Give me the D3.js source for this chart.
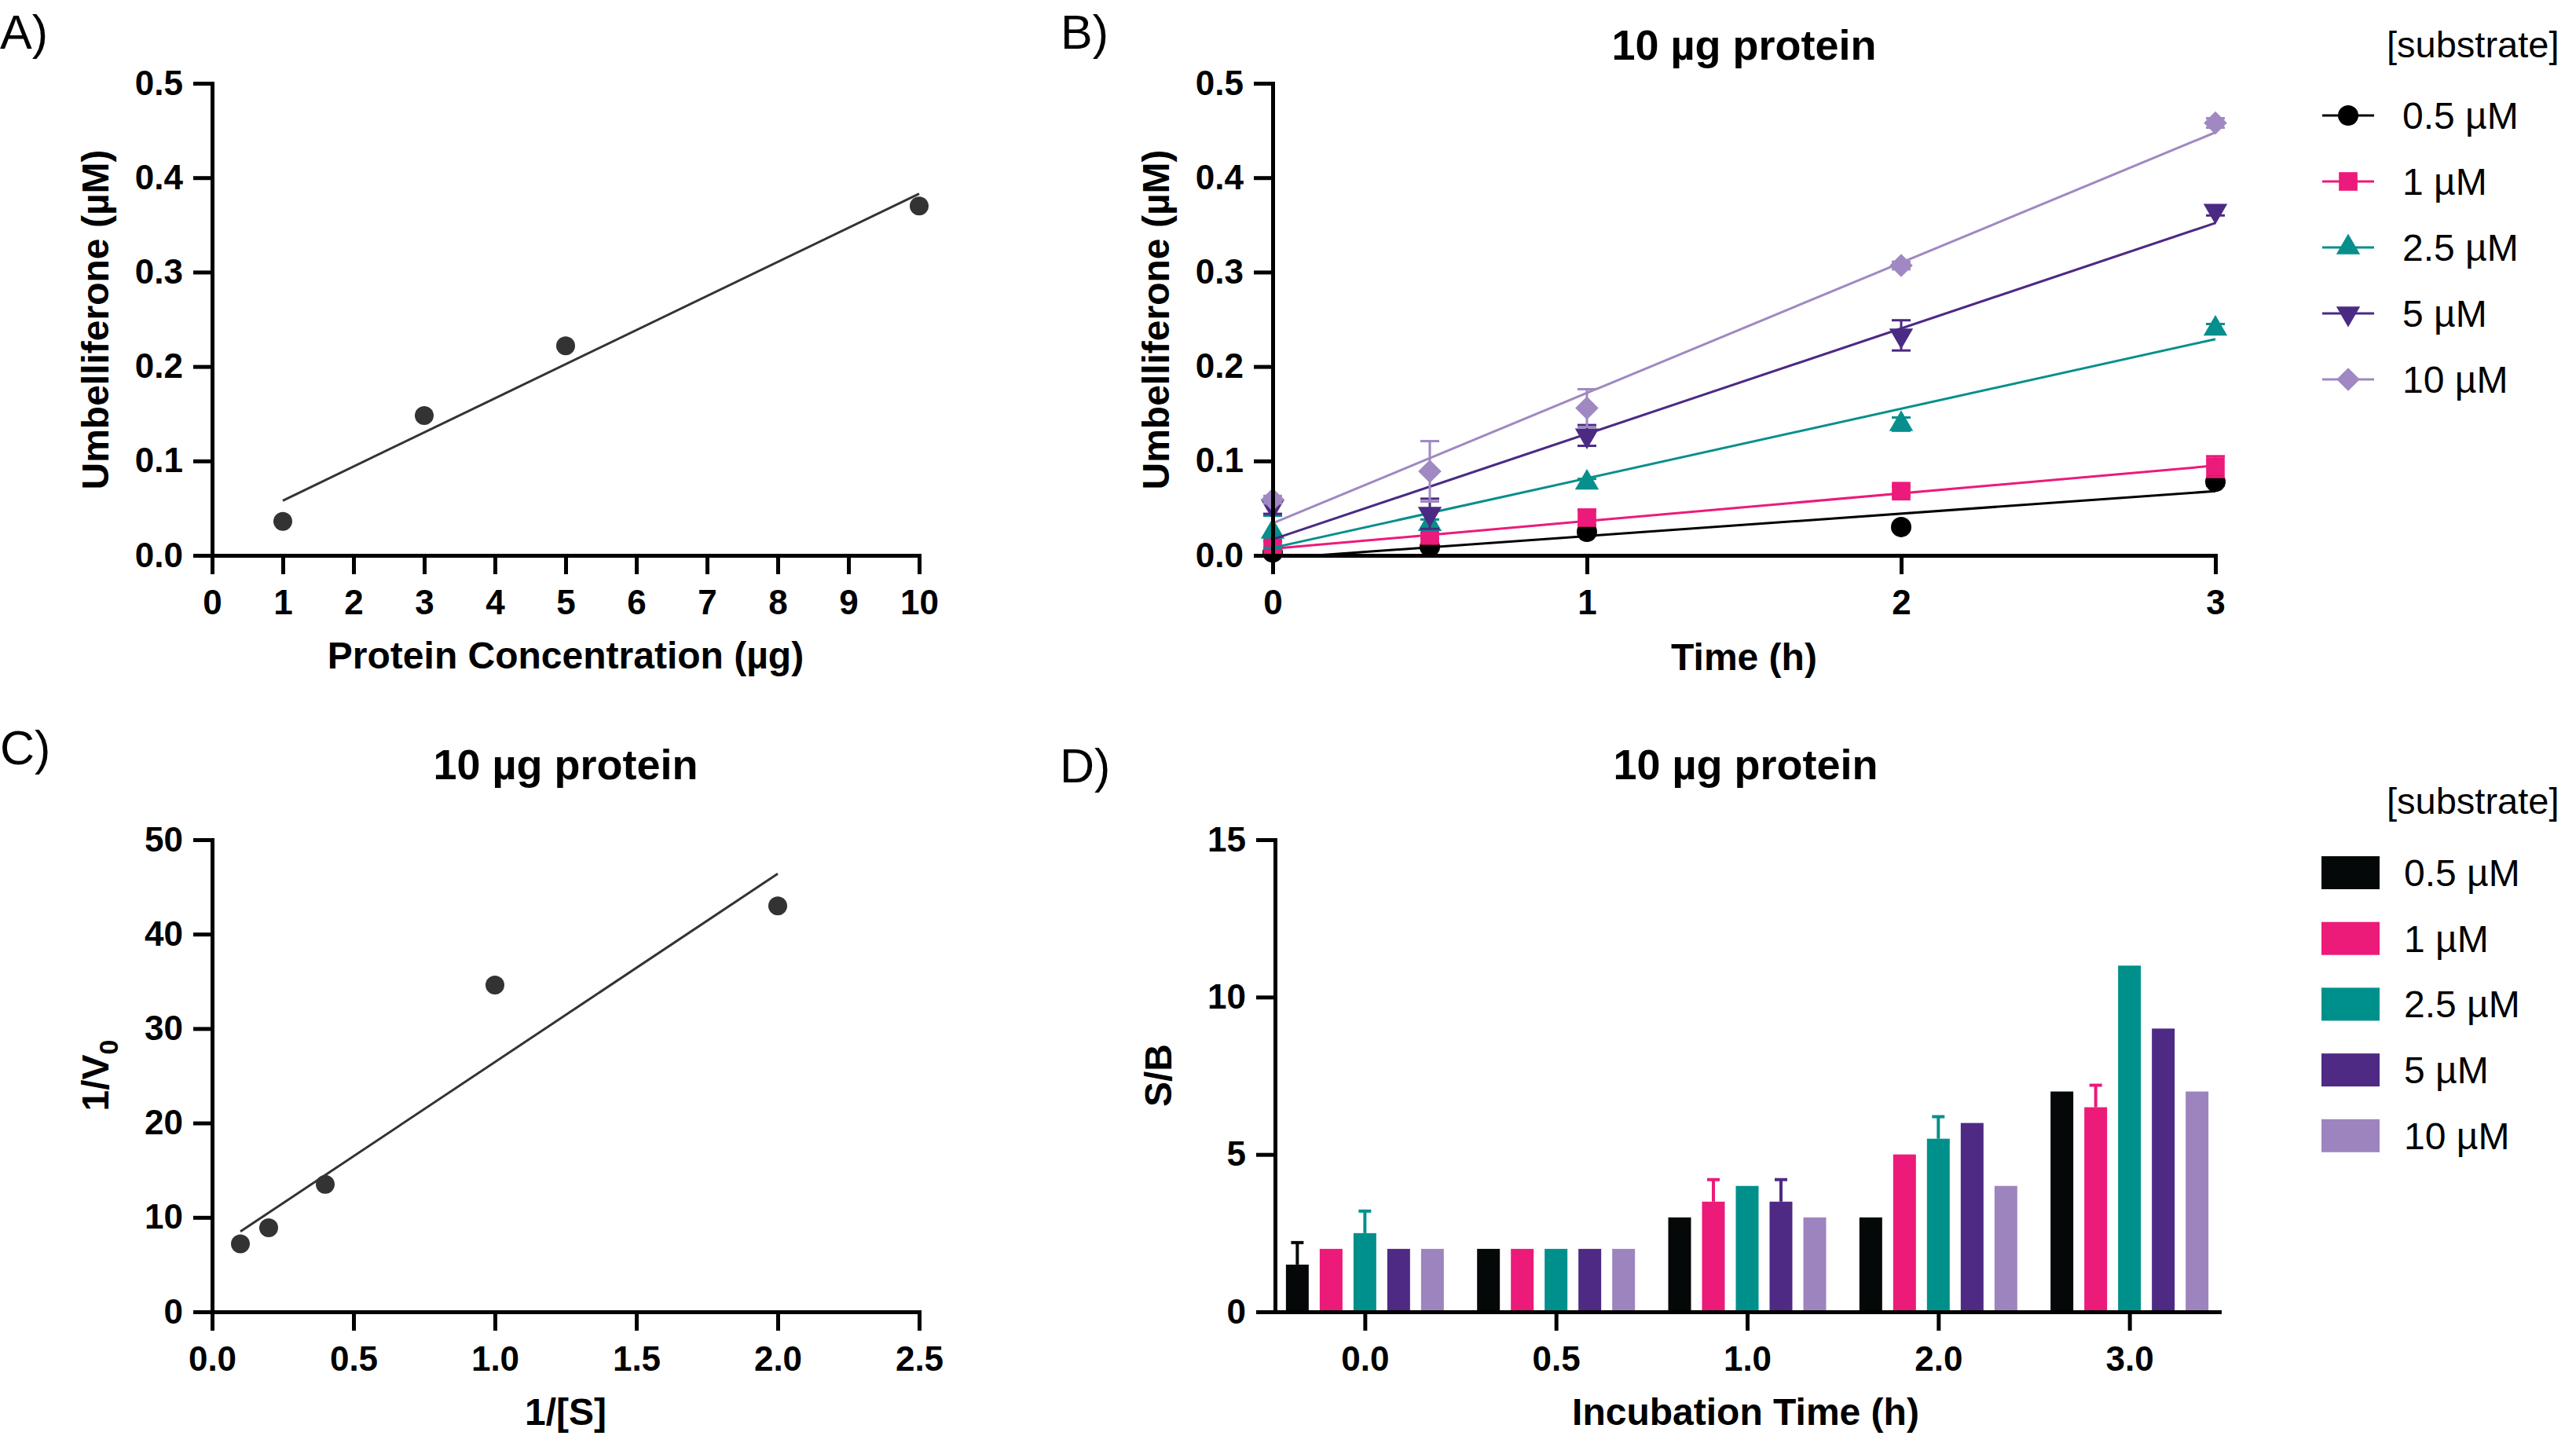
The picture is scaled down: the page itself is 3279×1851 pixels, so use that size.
<!DOCTYPE html>
<meta charset="utf-8">
<body style="margin:0;background:#fff">
<script src="https://d3js.org/d3.v7.min.js"></script>
<script>
// ---- A) umbelliferone vs protein amount
var proteinUg = [1, 3, 5, 10];
var umbProtein = [0.036, 0.148, 0.222, 0.370];
var proteinFit = [[1, 0.058], [10, 0.383]];

// ---- B) time course, 10 ug protein
var timeH = [0, 0.5, 1, 2, 3];
var substrates = ["0.5 µM", "1 µM", "2.5 µM", "5 µM", "10 µM"];
var umb05 = [0.003, 0.009, 0.025, 0.030, 0.078];
var umb1 = [0.011, 0.021, 0.040, 0.068, 0.094];
var umb25 = [0.025, 0.033, 0.077, 0.139, 0.240];
var umb5 = [0.052, 0.044, 0.127, 0.233, 0.365];
var umb10 = [0.059, 0.089, 0.156, 0.307, 0.458];
var sd05 = [0.002, 0.002, 0.003, 0.002, 0.004];
var sd1 = [0.004, 0.003, 0.008, 0.005, 0.011];
var sd25 = [0.017, 0.005, 0.004, 0.007, 0.005];
var sd5 = [0.008, 0.016, 0.011, 0.016, 0.005];
var sd10 = [0.004, 0.032, 0.020, 0.004, 0.005];
// fitted lines [t start, y start, t end, y end]
var fit05 = [0.14, 0, 3, 0.068];
var fit1 = [0, 0.007, 3, 0.095];
var fit25 = [0, 0.008, 3, 0.229];
var fit5 = [0, 0.017, 3, 0.352];
var fit10 = [0, 0.034, 3, 0.448];

// ---- C) Lineweaver-Burk
var invS = [0.1, 0.2, 0.4, 1.0, 2.0];
var invV0 = [7.2, 8.9, 13.5, 34.6, 43.0];
var lbFit = [[0.1, 8.5], [2.0, 46.4]];

// ---- D) signal / background
var timeCats = ["0.0", "0.5", "1.0", "2.0", "3.0"];
var sb05 = [1.5, 2, 3, 3, 7];
var sb1 = [2, 2, 3.5, 5, 6.5];
var sb25 = [2.5, 2, 4, 5.5, 11];
var sb5 = [2, 2, 3.5, 6, 9];
var sb10 = [2, 2, 3, 4, 7];
var sbErr05 = [0.7, 0, 0, 0, 0];
var sbErr1 = [0, 0, 0.7, 0, 0.7];
var sbErr25 = [0.7, 0, 0, 0.7, 0];
var sbErr5 = [0, 0, 0.7, 0, 0];
var sbErr10 = [0, 0, 0, 0, 0];

var colors = ["#000000", "#EC1A7A", "#068F8C", "#4B2A84", "#A088C2"];
var barColors = ["#050808", "#EC1A79", "#00908C", "#4E2A84", "#9E84BE"];

var FONT = "'Liberation Sans', Arial, Helvetica, sans-serif";

var svg = d3.select("body").append("svg")
    .attr("width", 3279)
    .attr("height", 1851)
    .style("font-family", FONT);

function styleAxis(a) {
  a.select(".domain").attr("stroke-width", 5).attr("stroke-linecap", "square");
  a.selectAll(".tick line").attr("stroke-width", 5);
  a.selectAll(".tick text")
      .attr("font-size", 44)
      .attr("font-weight", "bold")
      .attr("font-family", FONT)
      .attr("fill", "#000");
}

function xTitle(text, cx, y) {
  svg.append("text").attr("x", cx).attr("y", y)
      .attr("text-anchor", "middle")
      .attr("font-size", 48).attr("font-weight", "bold")
      .text(text);
}

function yTitle(cx, cy) {
  return svg.append("text")
      .attr("transform", "translate(" + cx + "," + cy + ") rotate(-90)")
      .attr("text-anchor", "middle")
      .attr("font-size", 48).attr("font-weight", "bold");
}

function panelTitle(text, cx, y) {
  svg.append("text").attr("x", cx).attr("y", y)
      .attr("text-anchor", "middle")
      .attr("font-size", 54).attr("font-weight", "bold")
      .text(text);
}

function letter(text, x, y) {
  svg.append("text").attr("x", x).attr("y", y)
      .attr("font-size", 61)
      .text(text);
}

// ================= Panel A =================
var xA = d3.scaleLinear().domain([0, 10]).range([270, 1170]);
var yA = d3.scaleLinear().domain([0, 0.5]).range([707, 106]);

svg.append("g").attr("transform", "translate(0,707)")
    .call(d3.axisBottom(xA).tickValues(d3.range(0, 11)).tickFormat(d3.format("d"))
      .tickSize(24).tickSizeOuter(0).tickPadding(20))
    .call(styleAxis);
svg.append("g").attr("transform", "translate(270,0)")
    .call(d3.axisLeft(yA).tickValues([0, 0.1, 0.2, 0.3, 0.4, 0.5]).tickFormat(d3.format(".1f"))
      .tickSize(24).tickSizeOuter(0).tickPadding(13))
    .call(styleAxis);

svg.append("path")
    .datum(proteinFit)
    .attr("d", d3.line().x(function(d) { return xA(d[0]); }).y(function(d) { return yA(d[1]); }))
    .attr("stroke", "#333").attr("stroke-width", 3).attr("fill", "none");

svg.selectAll(".ptA").data(proteinUg).enter().append("circle")
    .attr("cx", function(d) { return xA(d); })
    .attr("cy", function(d, i) { return yA(umbProtein[i]); })
    .attr("r", 12).attr("fill", "#333");

xTitle("Protein Concentration (µg)", 720, 851);
yTitle(138, 407).text("Umbelliferone (µM)");
letter("A)", 0, 62);

// ================= Panel B =================
var xB = d3.scaleLinear().domain([0, 3]).range([1620, 2820]);
var yB = d3.scaleLinear().domain([0, 0.5]).range([707, 106]);

var seriesB = [
  {name: substrates[0], mean: umb05, sd: sd05, fit: fit05, sym: d3.symbolCircle, size: 530, rot: 0},
  {name: substrates[1], mean: umb1, sd: sd1, fit: fit1, sym: d3.symbolSquare, size: 560, rot: 0},
  {name: substrates[2], mean: umb25, sd: sd25, fit: fit25, sym: d3.symbolTriangle, size: 400, rot: 0},
  {name: substrates[3], mean: umb5, sd: sd5, fit: fit5, sym: d3.symbolTriangle, size: 400, rot: 180},
  {name: substrates[4], mean: umb10, sd: sd10, fit: fit10, sym: d3.symbolSquare, size: 440, rot: 45}
];

var gB = svg.append("g");
seriesB.forEach(function(s, k) {
  var c = colors[k];
  var g = gB.append("g");
  g.append("line")
      .attr("x1", xB(s.fit[0])).attr("y1", yB(s.fit[1]))
      .attr("x2", xB(s.fit[2])).attr("y2", yB(s.fit[3]))
      .attr("stroke", c).attr("stroke-width", 3);
  timeH.forEach(function(t, i) {
    var x = xB(t), lo = yB(s.mean[i] - s.sd[i]), hi = yB(s.mean[i] + s.sd[i]);
    g.append("line").attr("x1", x).attr("x2", x).attr("y1", lo).attr("y2", hi)
        .attr("stroke", c).attr("stroke-width", 3);
    [lo, hi].forEach(function(yy) {
      g.append("line").attr("x1", x - 12).attr("x2", x + 12).attr("y1", yy).attr("y2", yy)
          .attr("stroke", c).attr("stroke-width", 3);
    });
  });
  g.selectAll(".m").data(s.mean).enter().append("path")
      .attr("d", d3.symbol().type(s.sym).size(s.size))
      .attr("transform", function(d, i) {
        return "translate(" + xB(timeH[i]) + "," + yB(d) + ") rotate(" + s.rot + ")";
      })
      .attr("fill", c);
});

svg.append("g").attr("transform", "translate(0,707)")
    .call(d3.axisBottom(xB).tickValues([0, 1, 2, 3]).tickFormat(d3.format("d"))
      .tickSize(24).tickSizeOuter(0).tickPadding(20))
    .call(styleAxis);
svg.append("g").attr("transform", "translate(1620,0)")
    .call(d3.axisLeft(yB).tickValues([0, 0.1, 0.2, 0.3, 0.4, 0.5]).tickFormat(d3.format(".1f"))
      .tickSize(24).tickSizeOuter(0).tickPadding(13))
    .call(styleAxis);

panelTitle("10 µg protein", 2220, 76);
xTitle("Time (h)", 2220, 853);
yTitle(1488, 407).text("Umbelliferone (µM)");
letter("B)", 1350, 62);

// legend B
svg.append("text").attr("x", 3038).attr("y", 73).attr("font-size", 47).text("[substrate]");
var legB = svg.selectAll(".legB").data(seriesB).enter().append("g")
    .attr("transform", function(d, i) { return "translate(0," + (147 + i * 84) + ")"; });
legB.append("line").attr("x1", 2956).attr("x2", 3022)
    .attr("stroke", function(d, i) { return colors[i]; }).attr("stroke-width", 3);
legB.append("path")
    .attr("d", function(d) { return d3.symbol().type(d.sym).size(d.size)(); })
    .attr("transform", function(d) { return "translate(2989,0) rotate(" + d.rot + ")"; })
    .attr("fill", function(d, i) { return colors[i]; });
legB.append("text").attr("x", 3058).attr("y", 17).attr("font-size", 48)
    .text(function(d) { return d.name; });

// ================= Panel C =================
var xC = d3.scaleLinear().domain([0, 2.5]).range([270, 1170]);
var yC = d3.scaleLinear().domain([0, 50]).range([1670, 1069]);

svg.append("path")
    .datum(lbFit)
    .attr("d", d3.line().x(function(d) { return xC(d[0]); }).y(function(d) { return yC(d[1]); }))
    .attr("stroke", "#333").attr("stroke-width", 3).attr("fill", "none");
svg.selectAll(".ptC").data(invS).enter().append("circle")
    .attr("cx", function(d) { return xC(d); })
    .attr("cy", function(d, i) { return yC(invV0[i]); })
    .attr("r", 12).attr("fill", "#333");

svg.append("g").attr("transform", "translate(0,1670)")
    .call(d3.axisBottom(xC).tickValues([0, 0.5, 1, 1.5, 2, 2.5]).tickFormat(d3.format(".1f"))
      .tickSize(24).tickSizeOuter(0).tickPadding(20))
    .call(styleAxis);
svg.append("g").attr("transform", "translate(270,0)")
    .call(d3.axisLeft(yC).tickValues([0, 10, 20, 30, 40, 50]).tickFormat(d3.format("d"))
      .tickSize(24).tickSizeOuter(0).tickPadding(13))
    .call(styleAxis);

panelTitle("10 µg protein", 720, 992);
xTitle("1/[S]", 720, 1814);
var yc = yTitle(138, 1369);
yc.append("tspan").text("1/V");
yc.append("tspan").attr("font-size", 34).attr("dy", 12).text("0");
letter("C)", 0, 973);

// ================= Panel D =================
var seriesD = [
  {vals: sb05, err: sbErr05},
  {vals: sb1, err: sbErr1},
  {vals: sb25, err: sbErr25},
  {vals: sb5, err: sbErr5},
  {vals: sb10, err: sbErr10}
];
var x0 = d3.scalePoint().domain(timeCats).range([1623, 2825]).padding(0.47);
var x1 = d3.scaleBand().domain(d3.range(5)).range([-107.5, 107.5])
    .paddingInner(0.326).paddingOuter(0.163);
var yD = d3.scaleLinear().domain([0, 15]).range([1670, 1069]);

var gD = svg.append("g");
seriesD.forEach(function(s, k) {
  var g = gD.append("g");
  timeCats.forEach(function(cat, i) {
    var bx = x0(cat) + x1(k), bw = x1.bandwidth(), cx = bx + bw / 2;
    if (s.err[i] > 0) {
      var top = yD(s.vals[i] + s.err[i]);
      g.append("line").attr("x1", cx).attr("x2", cx)
          .attr("y1", yD(s.vals[i])).attr("y2", top)
          .attr("stroke", barColors[k]).attr("stroke-width", 4);
      g.append("line").attr("x1", cx - 8).attr("x2", cx + 8)
          .attr("y1", top).attr("y2", top)
          .attr("stroke", barColors[k]).attr("stroke-width", 4);
    }
    g.append("rect").attr("x", bx).attr("width", bw)
        .attr("y", yD(s.vals[i])).attr("height", yD(0) - yD(s.vals[i]))
        .attr("fill", barColors[k]);
  });
});

svg.append("g").attr("transform", "translate(0,1670)")
    .call(d3.axisBottom(x0).tickSize(24).tickSizeOuter(0).tickPadding(20))
    .call(styleAxis);
svg.append("g").attr("transform", "translate(1623,0)")
    .call(d3.axisLeft(yD).tickValues([0, 5, 10, 15]).tickFormat(d3.format("d"))
      .tickSize(24).tickSizeOuter(0).tickPadding(13))
    .call(styleAxis);

panelTitle("10 µg protein", 2222, 992);
xTitle("Incubation Time (h)", 2222, 1814);
yTitle(1491, 1369).text("S/B");
letter("D)", 1349, 996);

// legend D
svg.append("text").attr("x", 3038).attr("y", 1036).attr("font-size", 47).text("[substrate]");
var legD = svg.selectAll(".legD").data(substrates).enter().append("g")
    .attr("transform", function(d, i) { return "translate(0," + (1111 + i * 83.7) + ")"; });
legD.append("rect").attr("x", 2955).attr("y", -21).attr("width", 74).attr("height", 42)
    .attr("fill", function(d, i) { return barColors[i]; });
legD.append("text").attr("x", 3060).attr("y", 17).attr("font-size", 48)
    .text(function(d) { return d; });
</script>
</body>
